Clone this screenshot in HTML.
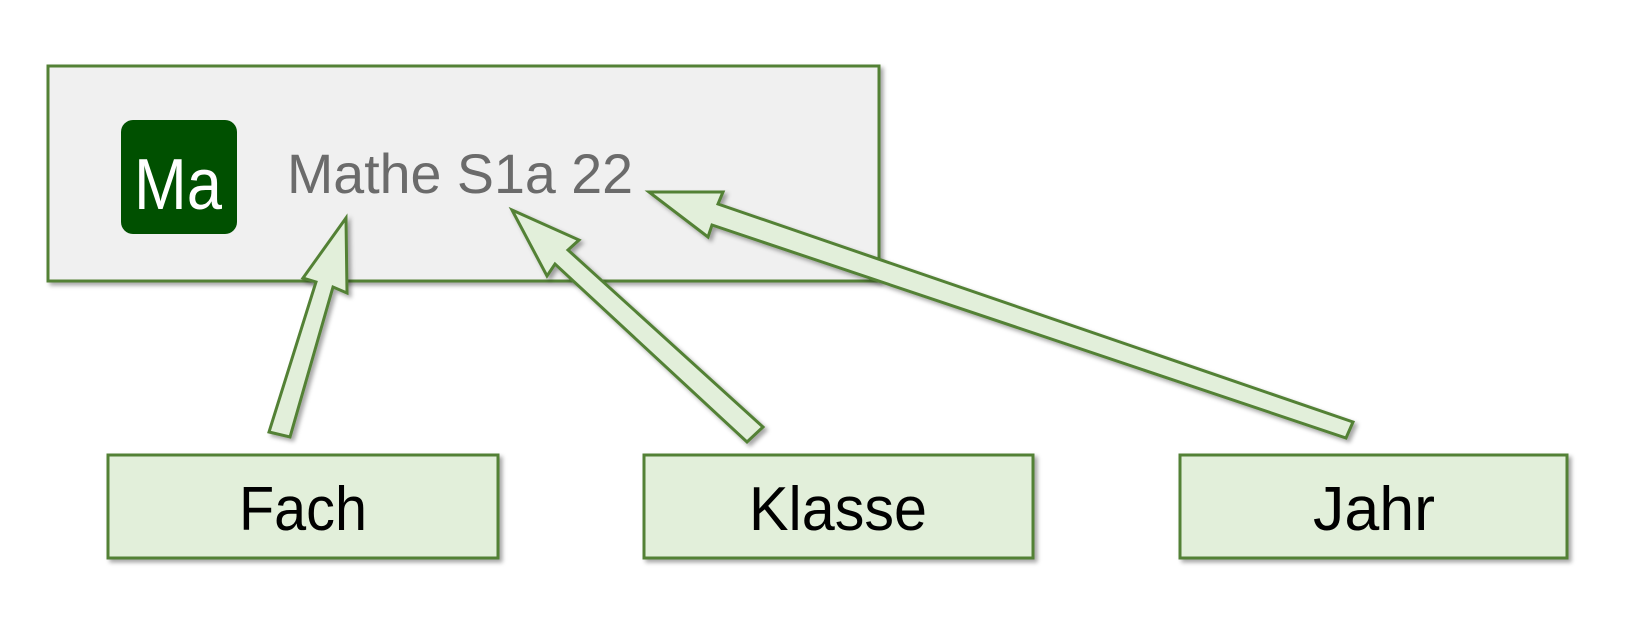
<!DOCTYPE html>
<html><head><style>
html,body{margin:0;padding:0;background:#fff;}
svg{display:block;}
</style></head><body>
<svg width="1636" height="622" viewBox="0 0 1636 622" xmlns="http://www.w3.org/2000/svg">
<defs>
<filter id="sh" x="-10%" y="-10%" width="130%" height="130%">
<feDropShadow dx="3" dy="3" stdDeviation="2" flood-color="#000" flood-opacity="0.35"/>
</filter>
</defs>
<rect x="48" y="66" width="831" height="215" fill="#f0f0f0" stroke="#538135" stroke-width="3" filter="url(#sh)"/>
<rect x="121" y="120" width="116" height="114" rx="12" fill="#005000"/>
<text x="178" y="209" font-family="Liberation Sans, sans-serif" font-size="72" fill="#fff" text-anchor="middle" textLength="88" lengthAdjust="spacingAndGlyphs">Ma</text>
<text x="287" y="193" font-family="Liberation Sans, sans-serif" font-size="56" fill="#6b6b6b" textLength="346" lengthAdjust="spacingAndGlyphs">Mathe S1a 22</text>
<g fill="#e2efda" stroke="#538135" stroke-width="3" stroke-linejoin="miter" filter="url(#sh)">
<polygon points="346,218 347,293 333,287 290,437 269,432 316,282 303,278"/>
<polygon points="512,210 579,240 568,250 763,427 747,442 555,264 547,276"/>
<polygon points="649,192 723,192 718,204 1353,422 1346,438 712,225 708,237"/>
</g>
<g fill="#e2efda" stroke="#538135" stroke-width="3" filter="url(#sh)">
<rect x="108" y="455" width="390" height="103"/>
<rect x="644" y="455" width="389" height="103"/>
<rect x="1180" y="455" width="387" height="103"/>
</g>
<g font-family="Liberation Sans, sans-serif" font-size="62" fill="#000" text-anchor="middle">
<text x="303" y="530" textLength="128" lengthAdjust="spacingAndGlyphs">Fach</text>
<text x="838" y="530" textLength="178" lengthAdjust="spacingAndGlyphs">Klasse</text>
<text x="1374" y="530" textLength="122" lengthAdjust="spacingAndGlyphs">Jahr</text>
</g>
</svg>
</body></html>
